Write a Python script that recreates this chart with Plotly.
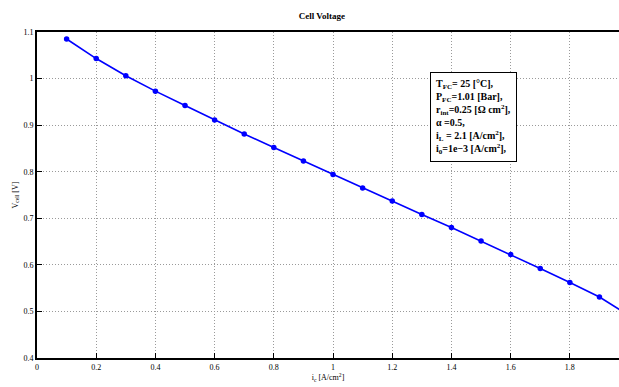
import plotly.graph_objects as go

# Data
i_markers = [0.1, 0.2, 0.3, 0.4, 0.5, 0.6, 0.7, 0.8, 0.9, 1.0,
             1.1, 1.2, 1.3, 1.4, 1.5, 1.6, 1.7, 1.8, 1.9]
v_markers = [1.085, 1.043, 1.006, 0.973, 0.942, 0.911, 0.881, 0.852, 0.823, 0.794,
             0.765, 0.737, 0.708, 0.680, 0.651, 0.622, 0.592, 0.562, 0.531]
i_line = i_markers + [1.97]
v_line = v_markers + [0.503]

x_ticks = [0, 0.2, 0.4, 0.6, 0.8, 1, 1.2, 1.4, 1.6, 1.8]
x_ticklabels = ["0", "0.2", "0.4", "0.6", "0.8", "1", "1.2", "1.4", "1.6", "1.8"]
y_ticks = [0.4, 0.5, 0.6, 0.7, 0.8, 0.9, 1.0, 1.1]
y_ticklabels = ["0.4", "0.5", "0.6", "0.7", "0.8", "0.9", "1", "1.1"]

font_family = "Liberation Serif, Times New Roman, serif"

fig = go.Figure()
fig.add_trace(go.Scatter(x=i_line, y=v_line, mode="lines",
                         line=dict(color="#0000ff", width=1.6), showlegend=False))
fig.add_trace(go.Scatter(x=i_markers, y=v_markers, mode="markers",
                         marker=dict(color="#0000ff", size=5.5), showlegend=False))

info = ("T<sub>FC</sub>= 25 [°C],<br>P<sub>FC</sub>=1.01 [Bar],<br>"
        "r<sub>int</sub>=0.25 [Ω cm<sup>2</sup>],<br>α =0.5,<br>"
        "i<sub>L</sub> = 2.1 [A/cm<sup>2</sup>],<br>i<sub>0</sub>=1e−3 [A/cm<sup>2</sup>],")

fig.add_annotation(x=0.675, y=0.876, xref="paper", yref="paper",
                   xanchor="left", yanchor="top", align="left",
                   text="<b>" + info + "</b>", showarrow=False,
                   font=dict(family=font_family, size=10, color="black"),
                   bgcolor="white", bordercolor="black", borderwidth=1, borderpad=5)

grid_style = dict(showgrid=True, gridcolor="#9a9a9a", griddash="1px,2px", gridwidth=1)

fig.update_layout(
    width=619, height=387,
    margin=dict(l=37, r=0, t=32, b=29),
    plot_bgcolor="white", paper_bgcolor="white",
    font=dict(family=font_family, size=8, color="black"),
    title=dict(text="<b>Cell Voltage</b>", x=0.52, xanchor="center", y=0.958, yanchor="middle",
               font=dict(family=font_family, size=9, color="black")),
)
fig.update_xaxes(range=[0, 1.966], tickvals=x_ticks, ticktext=x_ticklabels,
                 showline=True, linecolor="black", linewidth=2, mirror=True,
                 ticks="inside", ticklen=5, tickcolor="black",
                 zeroline=False, **grid_style,
                 title=dict(text="i<sub>c</sub> [A/cm<sup>2</sup>]", standoff=2,
                            font=dict(family=font_family, size=8)))
fig.update_yaxes(range=[0.4, 1.1], tickvals=y_ticks, ticktext=y_ticklabels,
                 showline=True, linecolor="black", linewidth=2,
                 ticks="inside", ticklen=5, tickcolor="black",
                 zeroline=False, **grid_style,
                 title=dict(text="V<sub>cell</sub> [V]", standoff=4,
                            font=dict(family=font_family, size=8)))

fig.write_html("out.html")
